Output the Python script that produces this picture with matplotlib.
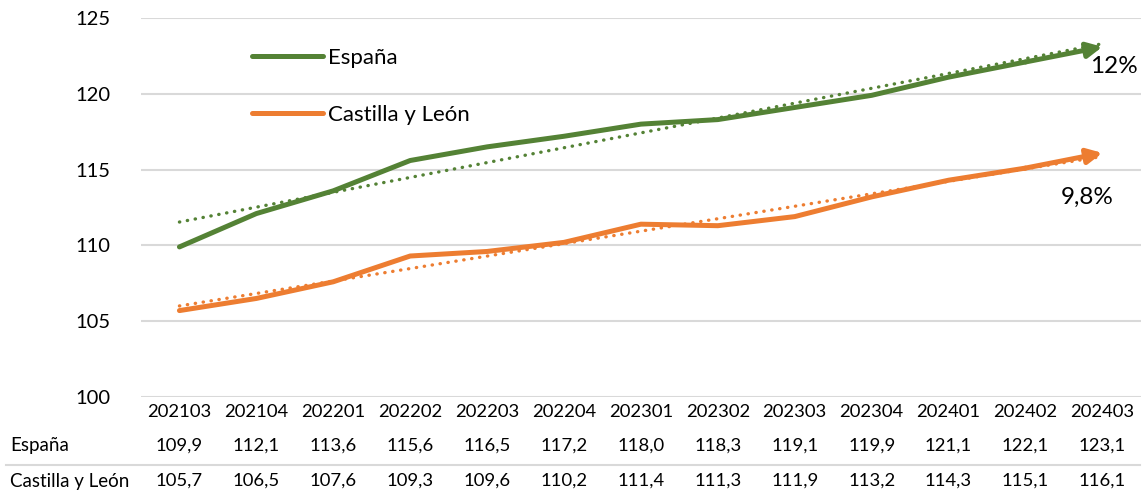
import numpy as np
import matplotlib.pyplot as plt
from matplotlib.lines import Line2D
from matplotlib.transforms import blended_transform_factory

plt.rcParams['font.family'] = ['Lato', 'DejaVu Sans']

# datos
periodos = ['202103', '202104', '202201', '202202', '202203', '202204', '202301',
            '202302', '202303', '202304', '202401', '202402', '202403']
espana = [109.9, 112.1, 113.6, 115.6, 116.5, 117.2, 118.0, 118.3, 119.1, 119.9, 121.1, 122.1, 123.1]
cyl = [105.7, 106.5, 107.6, 109.3, 109.6, 110.2, 111.4, 111.3, 111.9, 113.2, 114.3, 115.1, 116.1]
series = ['España', 'Castilla y León']
colores = ['#548235', '#ED7D31']
etiquetas = ['12%', '9,8%']
pos_etiquetas = [(12.15, 121.8), (11.8, 113.2)]

fig = plt.figure(figsize=(11.48, 4.95), dpi=100)
ax = fig.add_axes([0.1228, 0.198, 0.871, 0.7656])

x = np.arange(len(periodos))
handles = []
for vals, col in zip([espana, cyl], colores):
    vals = np.array(vals)
    # linea principal con flecha al final
    ax.plot(x[:-1], vals[:-1], color=col, lw=3.6, solid_capstyle='round',
            solid_joinstyle='round', zorder=3)
    ax.annotate('', xy=(x[-1], vals[-1]), xytext=(x[-2], vals[-2]),
                arrowprops=dict(arrowstyle='-|>,head_length=0.9,head_width=0.45',
                                color=col, lw=3.6, shrinkA=0, shrinkB=0), zorder=3)
    # linea de tendencia
    a, b = np.polyfit(x, vals, 1)
    ax.plot(x, a * x + b, color=col, lw=2.4, linestyle=(0, (0.1, 2.3)),
            dash_capstyle='round', zorder=2)
    handles.append(Line2D([], [], color=col, lw=3.6, solid_capstyle='round'))

for txt, (px, py) in zip(etiquetas, pos_etiquetas):
    ax.text(px, py, txt, fontsize=17.5, ha='center', va='center')

ax.set_xlim(-0.5, len(periodos) - 0.5)
ax.set_ylim(100, 125)
ax.set_yticks(range(100, 126, 5))
ax.set_xticks(x)
ax.set_xticklabels(periodos, fontsize=13.3)
ax.tick_params(axis='x', length=0, pad=5)
ax.tick_params(axis='y', length=0, pad=22, labelsize=14.5)
for s in ax.spines.values():
    s.set_visible(False)
ax.grid(axis='y', color='#D9D9D9', lw=1.5)
ax.set_axisbelow(True)

# tabla de datos
tr = blended_transform_factory(ax.transData, fig.transFigure)
for fila_y, nombre, vals in zip([1 - 446 / 495, 1 - 481 / 495], series, [espana, cyl]):
    fig.text(10 / 1148, fila_y, nombre, fontsize=13.5, va='center', ha='left')
    for xi, v in zip(x, vals):
        ax.text(xi, fila_y, f'{v:.1f}'.replace('.', ','), transform=tr,
                fontsize=13.3, ha='center', va='center')
fig.add_artist(Line2D([6 / 1148, 1140 / 1148], [1 - 465 / 495, 1 - 465 / 495],
                      color='#D9D9D9', lw=1.5))

fig.legend(handles, series, loc='upper left', bbox_to_anchor=(252 / 1148, 1 - 48 / 495),
           frameon=False, fontsize=16, handlelength=3.2, handletextpad=0.22,
           labelspacing=1.65, borderpad=0, borderaxespad=0)

fig.savefig('out.png', dpi=100)
